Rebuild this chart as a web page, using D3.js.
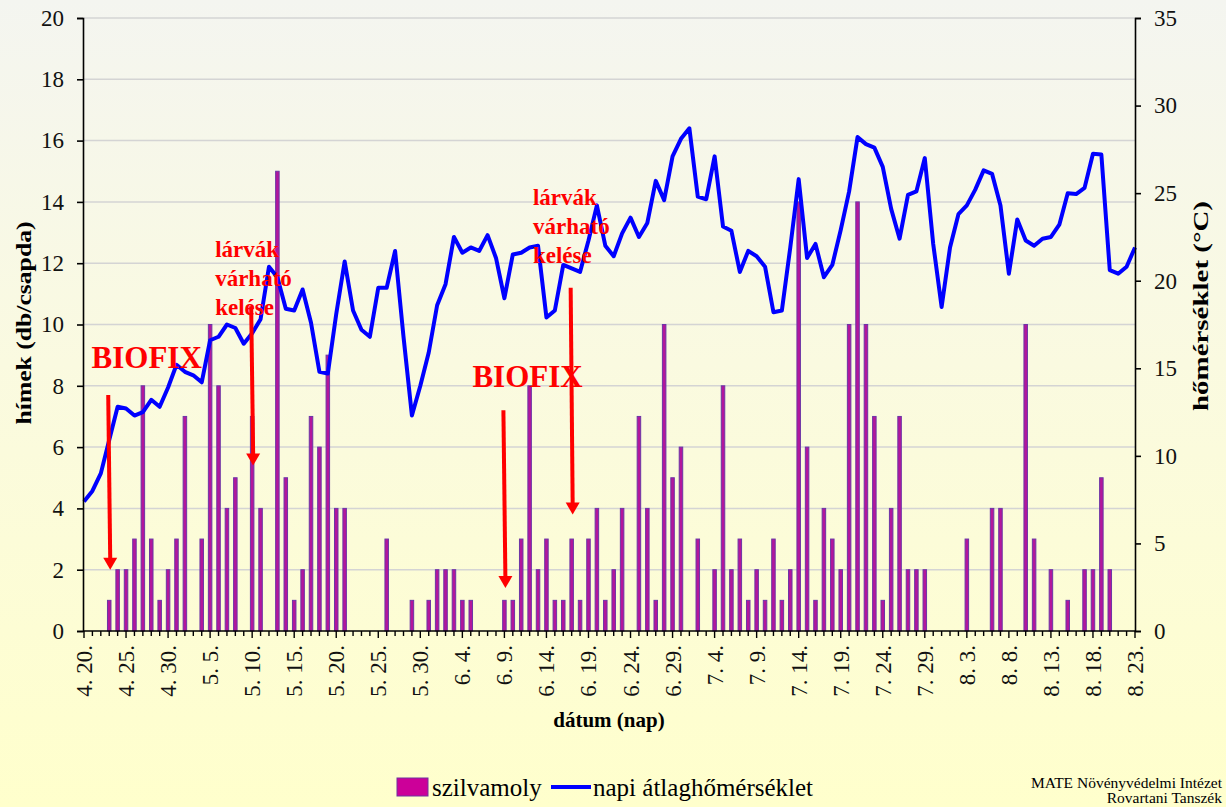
<!DOCTYPE html>
<html>
<head>
<meta charset="utf-8">
<script src="https://cdn.jsdelivr.net/npm/d3@7"></script>
<style>
  body { margin: 0; }
  svg { display: block; font-family: "Liberation Serif", "Times New Roman", serif; }
</style>
</head>
<body>
<svg width="1226" height="807"></svg>
<script>
// napok 4.20 - 8.23
const days = d3.timeDay.range(new Date(2021, 3, 20), new Date(2021, 7, 24));

// szilvamoly fogás (db/csapda), naponta
const catches = [
  0, 0, 0, 1, 2, 2, 3, 8, 3, 1, 2, 3, 7, 0, 3, 10, 8, 4, 5, 0,
  7, 4, 0, 15, 5, 1, 2, 7, 6, 9, 4, 4, 0, 0, 0, 0, 3, 0, 0, 1,
  0, 1, 2, 2, 2, 1, 1, 0, 0, 0, 1, 1, 3, 8, 2, 3, 1, 1, 3, 1,
  3, 4, 1, 2, 4, 0, 7, 4, 1, 10, 5, 6, 0, 3, 0, 2, 8, 2, 3, 1,
  2, 1, 3, 1, 2, 14, 6, 1, 4, 3, 2, 10, 14, 10, 7, 1, 4, 7, 2, 2,
  2, 0, 0, 0, 0, 3, 0, 0, 4, 4, 0, 0, 10, 3, 0, 2, 0, 1, 0, 2,
  2, 5, 2, 0, 0, 0
];

// napi átlaghőmérséklet (°C)
const temps = [
  7.4, 8.0, 9.0, 10.9, 12.8, 12.7, 12.3, 12.5, 13.2, 12.8, 13.9, 15.2, 14.8, 14.6, 14.2, 16.6, 16.8, 17.5, 17.3, 16.4,
  17.0, 17.8, 20.8, 20.2, 18.4, 18.3, 19.5, 17.6, 14.8, 14.7, 18.1, 21.1, 18.3, 17.2, 16.8, 19.6, 19.6, 21.7, 16.8, 12.3,
  14.0, 15.9, 18.6, 19.8, 22.5, 21.6, 21.9, 21.7, 22.6, 21.3, 19.0, 21.5, 21.6, 21.9, 22.0, 17.9, 18.3, 20.9, 20.7, 20.5,
  22.3, 24.3, 22.0, 21.4, 22.7, 23.6, 22.5, 23.3, 25.7, 24.6, 27.1, 28.1, 28.7, 24.8, 24.65, 27.1, 23.1, 22.85, 20.5, 21.7,
  21.4, 20.8, 18.2, 18.3, 21.9, 25.8, 21.3, 22.1, 20.2, 20.9, 22.9, 25.1, 28.2, 27.8, 27.6, 26.5, 24.1, 22.4, 24.9, 25.1,
  27.0, 22.1, 18.5, 21.9, 23.8, 24.3, 25.2, 26.3, 26.1, 24.3, 20.4, 23.5, 22.3, 22.0, 22.4, 22.5, 23.2, 25.0, 24.95, 25.3,
  27.25, 27.2, 20.6, 20.4, 20.8, 21.9
];

const tickLabels = ["4. 20.", "4. 25.", "4. 30.", "5. 5.", "5. 10.", "5. 15.", "5. 20.", "5. 25.", "5. 30.",
  "6. 4.", "6. 9.", "6. 14.", "6. 19.", "6. 24.", "6. 29.", "7. 4.", "7. 9.", "7. 14.", "7. 19.", "7. 24.",
  "7. 29.", "8. 3.", "8. 8.", "8. 13.", "8. 18.", "8. 23."];
const leftTicks = [0, 2, 4, 6, 8, 10, 12, 14, 16, 18, 20];
const rightTicks = [0, 5, 10, 15, 20, 25, 30, 35];

// megjegyzések: szöveg, szöveg helye (nap, hímek), nyíl napja, nyíl eleje/vége (hímek skálán)
const notes = [
  { lines: ["BIOFIX"], tx: 0.9, ty: 8.58, day: 3, from: 7.7, to: 2.0, big: true },
  { lines: ["lárvák", "várható", "kelése"], tx: 15.6, ty: 12.2, day: 20, from: 10.6, to: 5.4, big: false },
  { lines: ["BIOFIX"], tx: 46.2, ty: 7.95, day: 50, from: 7.2, to: 1.4, big: true },
  { lines: ["lárvák", "várható", "kelése"], tx: 53.4, ty: 13.9, day: 58, from: 11.2, to: 3.8, big: false }
];

const W = 1226, H = 807;
const margin = { left: 83, right: 91, top: 18, bottom: 176 };
const svg = d3.select("svg");

const defs = svg.append("defs");
const grad = defs.append("linearGradient").attr("id", "bg")
  .attr("x1", 0).attr("y1", 0).attr("x2", 0).attr("y2", 1);
grad.append("stop").attr("offset", "0%").attr("stop-color", "#f4f5f0");
grad.append("stop").attr("offset", "45%").attr("stop-color", "#fafae0");
grad.append("stop").attr("offset", "100%").attr("stop-color", "#ffffcc");
svg.append("rect").attr("width", W).attr("height", H).attr("fill", "url(#bg)");

const x = d3.scaleLinear().domain([0, days.length - 1]).range([margin.left + 1, W - margin.right]);
const y = d3.scaleLinear().domain([0, 20]).range([H - margin.bottom, margin.top]);
const y2 = d3.scaleLinear().domain([0, 35]).range([H - margin.bottom, margin.top]);

// rács
svg.append("g").selectAll("line").data(leftTicks.slice(1)).join("line")
  .attr("x1", margin.left).attr("x2", W - margin.right)
  .attr("y1", d => y(d)).attr("y2", d => y(d))
  .attr("stroke", "#d4d4d4").attr("stroke-width", 1.5);

// oszlopok
svg.append("g").selectAll("rect").data(catches).join("rect")
  .attr("x", (d, i) => x(i) - 1.75)
  .attr("width", 3.5)
  .attr("y", d => y(d))
  .attr("height", d => y(0) - y(d))
  .attr("fill", "#b3169c")
  .attr("stroke", "#6c35a6").attr("stroke-width", 1)
  .attr("display", d => d > 0 ? null : "none");

// hőmérséklet
const line = d3.line().x((d, i) => x(i)).y(d => y2(d));
svg.append("path").datum(temps)
  .attr("d", line)
  .attr("fill", "none").attr("stroke", "#0000ff")
  .attr("stroke-width", 4).attr("stroke-linejoin", "round");

// tengelyek
const axL = svg.append("g").attr("transform", `translate(${margin.left},0)`)
  .call(d3.axisLeft(y).tickValues(leftTicks).tickSize(6).tickPadding(13));
const axR = svg.append("g").attr("transform", `translate(${W - margin.right},0)`)
  .call(d3.axisRight(y2).tickValues(rightTicks).tickSize(6).tickPadding(13));
[axL, axR].forEach(g => {
  g.select(".domain").attr("stroke-width", 1.6);
  g.selectAll(".tick line").attr("stroke-width", 1.6);
  g.selectAll("text").attr("font-family", "Liberation Serif").attr("font-size", 23).attr("fill", "#111");
});

const axB = svg.append("g").attr("transform", `translate(0,${y(0)})`);
axB.append("line").attr("x1", margin.left).attr("x2", W - margin.right)
  .attr("stroke", "#000").attr("stroke-width", 1.6);
axB.selectAll("line.t").data(days).join("line").attr("class", "t")
  .attr("x1", (d, i) => x(i)).attr("x2", (d, i) => x(i))
  .attr("y1", 0).attr("y2", (d, i) => i % 5 === 0 ? 7 : 5)
  .attr("stroke", "#000").attr("stroke-width", 1.4);
axB.selectAll("text").data(tickLabels).join("text")
  .attr("transform", (d, i) => `translate(${x(i * 5) + 8},14) rotate(-90)`)
  .attr("text-anchor", "end")
  .attr("font-size", 23).attr("fill", "#111")
  .text(d => d);

// tengelycímek
svg.append("text").attr("transform", "translate(31,323) rotate(-90)")
  .attr("text-anchor", "middle").attr("font-weight", "bold").attr("font-size", 21)
  .attr("textLength", 203).attr("lengthAdjust", "spacingAndGlyphs")
  .text("hímek  (db/csapda)");
svg.append("text").attr("transform", "translate(1208,306) rotate(-90)")
  .attr("text-anchor", "middle").attr("font-weight", "bold").attr("font-size", 21)
  .attr("textLength", 210).attr("lengthAdjust", "spacingAndGlyphs")
  .text("hőmérséklet (°C)");
svg.append("text").attr("x", 609).attr("y", 727)
  .attr("text-anchor", "middle").attr("font-weight", "bold").attr("font-size", 21)
  .text("dátum (nap)");

// megjegyzések, nyilak
notes.forEach(n => {
  const ax = x(n.day);
  const g = svg.append("g").attr("fill", "#ff0000");
  n.lines.forEach((t, k) => {
    g.append("text").attr("x", x(n.tx)).attr("y", y(n.ty) + k * 29)
      .attr("font-size", n.big ? 31 : 23).attr("font-weight", "bold").text(t);
  });
  const yt = y(n.to);
  g.append("line").attr("x1", ax - 1).attr("x2", ax + 1)
    .attr("y1", y(n.from)).attr("y2", yt - 10)
    .attr("stroke", "#ff0000").attr("stroke-width", 4);
  g.append("path")
    .attr("d", `M${ax + 1 - 7},${yt - 12} L${ax + 1 + 7},${yt - 12} L${ax + 1},${yt} Z`);
});

// jelmagyarázat
const lg = svg.append("g").attr("font-size", 25);
lg.append("rect").attr("x", 397).attr("y", 778).attr("width", 31).attr("height", 18)
  .attr("fill", "#cc0099").attr("stroke", "#7030a0").attr("stroke-width", 1);
lg.append("text").attr("x", 432).attr("y", 796).text("szilvamoly");
lg.append("line").attr("x1", 551).attr("x2", 591).attr("y1", 787).attr("y2", 787)
  .attr("stroke", "#0000ff").attr("stroke-width", 4);
lg.append("text").attr("x", 593).attr("y", 796).text("napi átlaghőmérséklet");

svg.append("text").attr("x", 1222).attr("y", 788).attr("text-anchor", "end")
  .attr("font-size", 15.5).text("MATE Növényvédelmi Intézet");
svg.append("text").attr("x", 1222).attr("y", 803).attr("text-anchor", "end")
  .attr("font-size", 15.5).text("Rovartani Tanszék");
</script>
</body>
</html>
